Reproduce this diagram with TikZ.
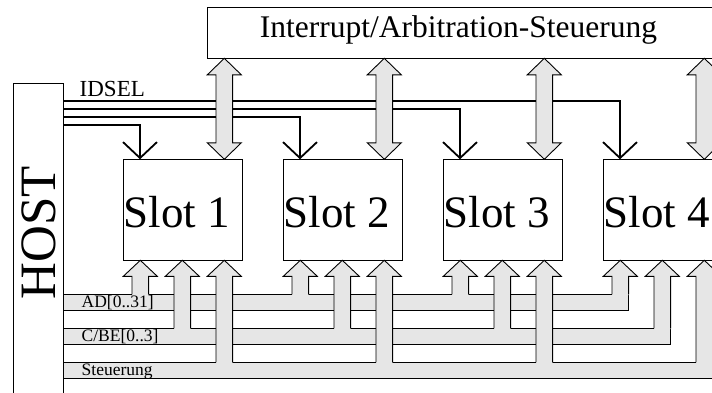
\documentclass[tikz,border=0pt]{standalone}
\usepackage{fontspec}
\setmainfont{Liberation Serif}
\usetikzlibrary{arrows.meta,calc}
\definecolor{busgrey}{HTML}{E6E6E6}
\begin{document}
\begin{tikzpicture}[x=1pt,y=-1pt,
  outline/.style={draw=black,line width=0.9pt},
  box/.style={outline,fill=white,rectangle,inner sep=0pt,anchor=north west},
  slotbox/.style={box,minimum width=119pt,minimum height=101pt},
  slottext/.style={font=\fontsize{45}{45}\selectfont,inner sep=0pt,anchor=base west},
  buslabel/.style={font=\fontsize{17.5}{17.5}\selectfont,inner sep=0pt,anchor=base west},
  selline/.style={line width=1.8pt,-{Straight Barb[length=16pt,width=34pt]}},
  band/.style={outline,fill=busgrey},
  fatarrow/.style={outline,fill=busgrey,line join=miter}]
\useasboundingbox (0,0) rectangle (712,392);

% host and interrupt controller
\node[box,minimum width=50pt,minimum height=340pt] (host) at (13,83) {};
\node[font=\fontsize{51}{51}\selectfont,rotate=90,inner sep=0pt] (hostlbl) at (38.5,233) {HOST};
\node[box,minimum width=520pt,minimum height=51pt] (irq) at (207,7.3) {};
\node[font=\fontsize{31.5}{31.5}\selectfont,inner sep=0pt,anchor=base] (irqlbl) at (458.5,37) {Interrupt/Arbitration-Steuerung};

% slots
\foreach \i in {1,...,4}{
  \pgfmathsetmacro{\L}{123.3+160*(\i-1)}
  \node[slotbox] (s\i) at (\L,159.3) {};
  \node[slottext] (t\i) at (\L,227.3) {Slot \i};
}

% IDSEL lines
\node[font=\fontsize{23}{23}\selectfont,inner sep=0pt,anchor=base west] (idsel) at (79.5,96.7) {IDSEL};
\foreach \i/\y in {1/125.3,2/117.0,3/108.8,4/100.6}{
  \coordinate (r\i) at (63,\y);
  \draw[selline] (r\i) -| ($(s\i.north west)+(16.7,0)$);
}

% interrupt/arbitration double arrows
\foreach \i in {1,...,4}{
  \pgfmathsetmacro{\c}{123.3+160*(\i-1)+101}
  \draw[fatarrow] (\c,58.3) -- (\c+17,74.8) -- (\c+8.3,74.8) -- (\c+8.3,142.8)
    -- (\c+17,142.8) -- (\c,159.3) -- (\c-17,142.8) -- (\c-8.3,142.8)
    -- (\c-8.3,74.8) -- (\c-17,74.8) -- cycle;
}

% buses
\draw[band] (63,294.3) rectangle (628.6,310.7);
\draw[band] (63,328.3) rectangle (670.6,344.7);
\draw[band] (63,362.3) rectangle (712.6,378.7);

% bus branches up into the slots
\foreach \i in {1,...,4}{
  \pgfmathsetmacro{\L}{123.3+160*(\i-1)}
  \foreach \k/\bt in {1/294.3,2/328.3,3/362.3}{
    \pgfmathsetmacro{\c}{\L+17+42*(\k-1)}
    \fill[busgrey] (\c-8.3,\bt+0.7) -- (\c-8.3,276.3) -- (\c-17,276.3) -- (\c,260.3)
      -- (\c+17,276.3) -- (\c+8.3,276.3) -- (\c+8.3,\bt+0.7) -- cycle;
    \draw[outline,line join=miter] (\c-8.3,\bt) -- (\c-8.3,276.3) -- (\c-17,276.3) -- (\c,260.3)
      -- (\c+17,276.3) -- (\c+8.3,276.3) -- (\c+8.3,\bt);
  }
}

% bus names
\node[buslabel] (adl) at (81.5,307.5) {AD[0..31]};
\node[buslabel] (cbel) at (81.5,341.5) {C/BE[0..3]};
\node[buslabel] (ctll) at (81.5,375.5) {Steuerung};
\end{tikzpicture}
\end{document}
